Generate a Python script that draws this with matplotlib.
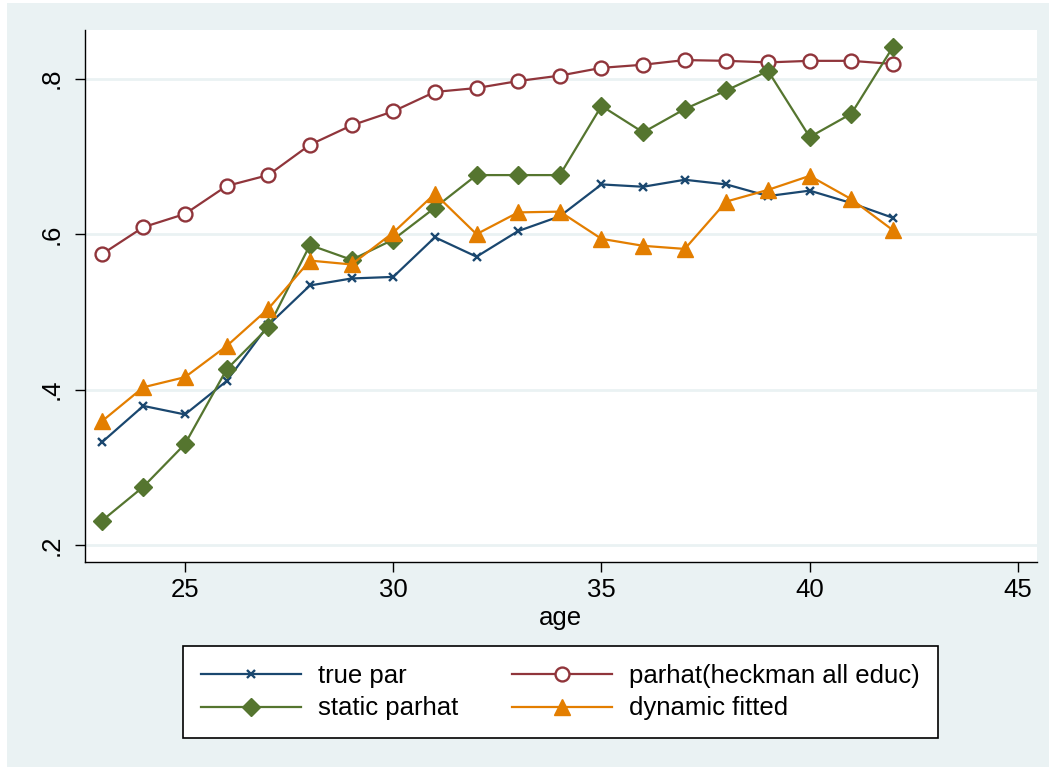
import matplotlib
matplotlib.use('Agg')
import matplotlib.pyplot as plt
from matplotlib.patches import Rectangle

# values
age = list(range(23, 43))
true_par = [0.332, 0.379, 0.368, 0.411, 0.483, 0.534, 0.543, 0.545, 0.596, 0.571,
            0.604, 0.623, 0.664, 0.661, 0.670, 0.664, 0.649, 0.656, 0.640, 0.621]
heckman = [0.574, 0.609, 0.626, 0.662, 0.676, 0.715, 0.740, 0.758, 0.783, 0.788,
           0.797, 0.804, 0.814, 0.818, 0.824, 0.823, 0.821, 0.823, 0.823, 0.819]
static = [0.231, 0.275, 0.330, 0.426, 0.480, 0.586, 0.567, 0.593, 0.634, 0.676,
          0.676, 0.676, 0.765, 0.731, 0.761, 0.785, 0.810, 0.725, 0.755, 0.841]
dynamic = [0.359, 0.403, 0.416, 0.456, 0.504, 0.566, 0.561, 0.602, 0.652, 0.600,
           0.628, 0.629, 0.594, 0.585, 0.581, 0.642, 0.657, 0.675, 0.645, 0.605]

xticks = [25, 30, 35, 40, 45]
yticks = [0.2, 0.4, 0.6, 0.8]
ytick_labels = ['.2', '.4', '.6', '.8']

plt.rcParams['font.family'] = ['Liberation Sans', 'DejaVu Sans']
bg = '#eaf2f3'
fs = 18.5

fig = plt.figure(figsize=(10.49, 7.67), dpi=100, facecolor='white')
fig.patches.append(Rectangle((7 / 1049, 0), 1, 764 / 767, transform=fig.transFigure,
                             facecolor=bg, edgecolor='none', zorder=-10))

ax = fig.add_axes([0.08074, 0.2677, 0.9075, 0.6932])
ax.set_facecolor('white')

l1, = ax.plot(age, true_par, color='#1a476f', lw=1.6, marker='x', ms=5.5, mew=1.7,
              label='true par')
l2, = ax.plot(age, heckman, color='#90353b', lw=1.6, marker='o', ms=10, mfc='white',
              mew=1.7, label='parhat(heckman all educ)')
l3, = ax.plot(age, static, color='#55752f', lw=1.6, marker='D', ms=9,
              label='static parhat')
l4, = ax.plot(age, dynamic, color='#e37e00', lw=1.6, marker='^', ms=12,
              label='dynamic fitted')

ax.set_xlim(22.592, 45.449)
ax.set_ylim(0.1786, 0.8627)
ax.set_xticks(xticks)
ax.set_yticks(yticks)
ax.set_yticklabels(ytick_labels)
ax.grid(axis='y', color=bg, lw=2)
ax.set_axisbelow(True)

for s in ['top', 'right']:
    ax.spines[s].set_visible(False)
for s in ['left', 'bottom']:
    ax.spines[s].set_linewidth(1.0)

ax.tick_params(axis='both', direction='out', length=7.5, width=1.0, labelsize=fs)
ax.tick_params(axis='y', labelrotation=90, pad=8)
ax.tick_params(axis='x', pad=4)
for t in ax.get_yticklabels():
    t.set_va('center')
ax.set_xlabel('age', fontsize=fs, labelpad=3)

# legend is filled row by row in the reference
leg = fig.legend(handles=[l1, l3, l2, l4], ncol=2, loc='center',
                 bbox_to_anchor=(560.5 / 1049, 1 - 692 / 767), fontsize=fs,
                 frameon=True, fancybox=False, edgecolor='black', facecolor='white',
                 framealpha=1, handlelength=3.9, handletextpad=0.65,
                 columnspacing=2.1, labelspacing=0.35, borderpad=0.7)
leg.get_frame().set_linewidth(1.2)

fig.savefig('out.png', dpi=100, facecolor=fig.get_facecolor())
